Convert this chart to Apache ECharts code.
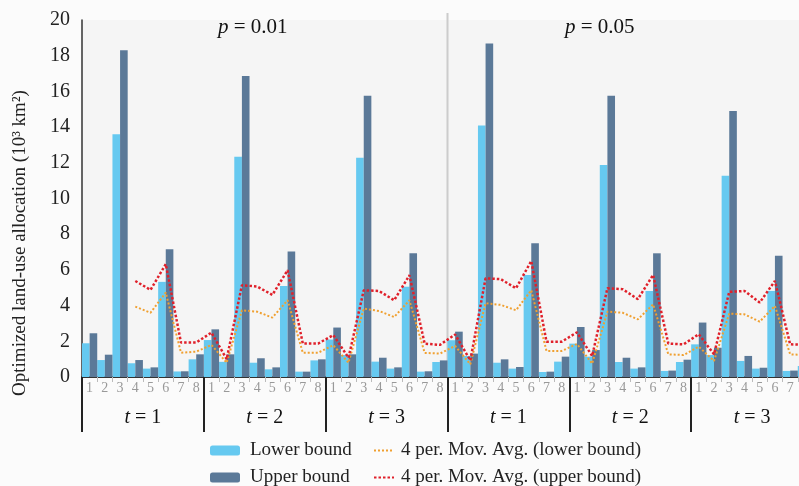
<!DOCTYPE html>
<html>
<head>
<meta charset="utf-8">
<script src="https://cdn.jsdelivr.net/npm/echarts@6/dist/echarts.min.js"></script>
<style>
  html, body { margin: 0; padding: 0; background: #fbfbfb; }
  #main { width: 799px; height: 486px; }
</style>
</head>
<body>
<div id="main"></div>
<script>
// land-use types inside each period block, and the period of each block
const landUseTypes = ['1', '2', '3', '4', '5', '6', '7', '8'];
const periods = ['1', '2', '3', '1', '2', '3'];

// bars (10^3 km2)
const lowerBound = [
  1.89, 0.95, 13.6, 0.77, 0.47, 5.33, 0.31, 0.99,
  2.07, 0.85, 12.34, 0.8, 0.43, 5.1, 0.3, 0.93,
  2.1, 1.23, 12.28, 0.86, 0.47, 5.05, 0.3, 0.84,
  2.06, 1.18, 14.09, 0.8, 0.47, 5.72, 0.28, 0.86,
  1.87, 1.14, 11.87, 0.84, 0.47, 4.82, 0.34, 0.84,
  1.83, 1.23, 11.27, 0.9, 0.47, 4.82, 0.34, 0.62
];
const upperBound = [
  2.45, 1.25, 18.3, 0.95, 0.54, 7.16, 0.32, 1.27,
  2.67, 1.27, 16.86, 1.05, 0.54, 7.03, 0.3, 0.99,
  2.77, 1.27, 15.76, 1.08, 0.54, 6.93, 0.32, 0.93,
  2.54, 1.31, 18.69, 0.99, 0.56, 7.5, 0.3, 1.14,
  2.8, 1.51, 15.76, 1.08, 0.54, 6.93, 0.36, 0.97,
  3.05, 1.64, 14.9, 1.18, 0.52, 6.79, 0.36, 1.0
];
// moving average trend lines
const movAvgLower = [
  null, null, null, 3.94, 3.6, 4.73, 1.36, 1.42,
  1.8, 0.8, 3.74, 3.66, 3.33, 4.3, 1.36, 1.36,
  1.78, 0.8, 3.83, 3.7, 3.36, 4.3, 1.35, 1.31,
  1.74, 0.71, 4.13, 4.04, 3.74, 4.86, 1.46, 1.46,
  1.85, 0.75, 3.66, 3.6, 3.23, 4.07, 1.27, 1.23,
  1.7, 0.9, 3.55, 3.51, 3.1, 3.98, 1.27, 1.23
];
const movAvgUpper = [
  null, null, null, 5.38, 4.88, 6.32, 1.93, 1.93,
  2.49, 1.0, 5.14, 5.07, 4.6, 5.98, 1.87, 1.87,
  2.35, 1.08, 4.86, 4.82, 4.3, 5.7, 1.87, 1.8,
  2.38, 0.93, 5.53, 5.48, 4.97, 6.5, 1.98, 1.98,
  2.5, 1.18, 4.97, 4.92, 4.36, 5.72, 1.87, 1.83,
  2.4, 1.27, 4.77, 4.82, 4.17, 5.38, 1.83, 1.8
];

const serif = 'Liberation Serif';
const categories = [];
periods.forEach((p, g) => {
  landUseTypes.forEach(k => categories.push(g + '-' + k));
});

const chart = echarts.init(document.getElementById('main'));

const option = {
  backgroundColor: '#fbfbfb',
  animation: false,
  grid: {
    left: 82, width: 731, top: 20, height: 357,
    outerBoundsMode: 'none',
    show: true, backgroundColor: '#f5f5f5', borderWidth: 0
  },
  legend: [{
    data: ['Lower bound', 'Upper bound'],
    orient: 'vertical',
    left: 205, top: 436, height: 60,
    itemWidth: 30, itemHeight: 10, itemGap: 8,
    textStyle: { fontFamily: serif, fontSize: 19, color: '#222', padding: [0, 0, 0, 5] }
  }, {
    data: ['4 per. Mov. Avg. (lower bound)', '4 per. Mov. Avg. (upper bound)'],
    orient: 'vertical',
    left: 368, top: 436, height: 60,
    itemWidth: 20, itemHeight: 10, itemGap: 8,
    itemStyle: { opacity: 0 },
    textStyle: { fontFamily: serif, fontSize: 19, color: '#222', padding: [0, 0, 0, 2] }
  }],
  xAxis: [{
    type: 'category',
    data: categories,
    axisLine: { lineStyle: { color: '#333', width: 2 } },
    axisTick: { show: true, length: 5, lineStyle: { color: '#bbb' } },
    axisLabel: {
      interval: 0, margin: 4,
      fontFamily: serif, fontSize: 14, color: '#999',
      formatter: v => v.split('-')[1]
    }
  }, {
    type: 'category',
    position: 'bottom',
    data: periods.map((p, i) => i + '|' + p),
    axisLine: { show: false },
    axisTick: { show: true, length: 55, lineStyle: { color: '#222', width: 2 } },
    axisLabel: {
      margin: 31,
      fontFamily: serif, fontSize: 20, color: '#111',
      formatter: v => '{i|t} = ' + v.split('|')[1],
      rich: { i: { fontStyle: 'italic', fontFamily: serif, fontSize: 20, color: '#111' } }
    },
    splitLine: { show: false }
  }],
  yAxis: {
    type: 'value',
    min: 0, max: 20, interval: 2,
    axisLine: { show: true, lineStyle: { color: '#333', width: 1.5 } },
    axisTick: { show: false },
    splitLine: { show: false },
    axisLabel: { fontFamily: serif, fontSize: 20, color: '#222', margin: 12 }
  },
  graphic: [{
    type: 'text', left: 218, top: 17,
    style: {
      text: '{i|p} = 0.01',
      rich: { i: { fontStyle: 'italic', fontFamily: serif, fontSize: 21, fill: '#111' } },
      fontFamily: serif, fontSize: 21, fill: '#111'
    }
  }, {
    type: 'text', left: 565, top: 17,
    style: {
      text: '{i|p} = 0.05',
      rich: { i: { fontStyle: 'italic', fontFamily: serif, fontSize: 21, fill: '#111' } },
      fontFamily: serif, fontSize: 21, fill: '#111'
    }
  }, {
    type: 'text', x: 20, y: 243, rotation: Math.PI / 2,
    style: {
      text: 'Optimized land-use allocation (10³ km²)',
      fontFamily: serif, fontSize: 19, fill: '#222',
      align: 'center', verticalAlign: 'middle'
    }
  }],
  series: [{
    name: 'Lower bound', type: 'bar',
    data: lowerBound,
    barGap: '0%', barCategoryGap: '0%',
    itemStyle: { color: '#66c9f0' }
  }, {
    name: 'Upper bound', type: 'bar',
    data: upperBound,
    itemStyle: { color: '#5b7998' }
  }, {
    name: '4 per. Mov. Avg. (lower bound)', type: 'line',
    data: movAvgLower,
    symbol: 'none',
    lineStyle: { color: '#f0a030', width: 2, type: [2, 2] },
    itemStyle: { color: '#f0a030' }
  }, {
    name: '4 per. Mov. Avg. (upper bound)', type: 'line',
    data: movAvgUpper,
    symbol: 'none',
    lineStyle: { color: '#e0202a', width: 2.5, type: [2.5, 2] },
    itemStyle: { color: '#e0202a' }
  }]
};

chart.setOption(option);

// divider between the two p levels, placed through the axes
const xa = chart.convertToPixel({ xAxisIndex: 0 }, categories[23]);
const xb = chart.convertToPixel({ xAxisIndex: 0 }, categories[24]);
const yTop = chart.convertToPixel({ yAxisIndex: 0 }, 20);
const yZero = chart.convertToPixel({ yAxisIndex: 0 }, 0);
const xDiv = (xa + xb) / 2;
chart.setOption({
  graphic: option.graphic.concat([{
    type: 'line', z: 1,
    shape: { x1: xDiv, y1: yTop - 7, x2: xDiv, y2: yZero },
    style: { stroke: '#cccccc', lineWidth: 2 }
  }])
});
</script>
</body>
</html>
